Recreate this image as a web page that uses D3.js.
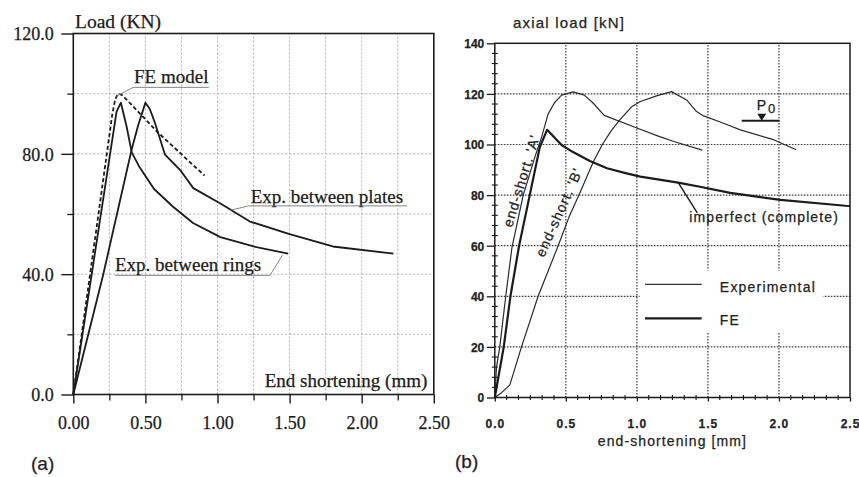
<!DOCTYPE html>
<html>
<head>
<meta charset="utf-8">
<script src="https://cdn.jsdelivr.net/npm/d3@7"></script>
<style>
  html, body { margin: 0; padding: 0; background: #fff; }
  svg { display: block; }
  /* scanned-print look: slightly heavier glyphs */
  text { stroke: #222; stroke-width: 0.25px; paint-order: stroke; }
</style>
</head>
<body>
<svg id="fig" width="859" height="477"></svg>
<script>
// ---------- Panel (a): load vs end shortening ----------
const aXTicks = [0, 0.5, 1.0, 1.5, 2.0, 2.5];
const aXMinor = [0.25, 0.75, 1.25, 1.75, 2.25];
const aYTicks = [0, 40, 80, 120];
const aYMinor = [20, 60, 100];

// FE model (dashed)
const feModelX = [0, 0.15, 0.27, 0.29, 0.31, 0.34, 0.40, 0.50, 0.58, 0.70, 0.80, 0.91];
const feModelY = [0, 51.5, 93, 98, 100, 99.5, 96.5, 91.5, 87.4, 82.1, 77.6, 72.8];

// Experiment, loaded between rings
const ringsX = [0, 0.30, 0.33, 0.37, 0.405, 0.46, 0.56, 0.69, 0.83, 1.02, 1.25, 1.49];
const ringsY = [0, 94, 97, 89, 80.5, 75.5, 68.3, 62.5, 57, 52.3, 49.2, 46.8];

// Experiment, loaded between plates
const platesX = [0, 0.208, 0.405, 0.45, 0.50, 0.53, 0.567, 0.636, 0.74, 0.832, 1.017, 1.225, 1.50, 1.80, 2.22];
const platesY = [0, 40, 81.5, 89.5, 97, 95, 90.2, 79.7, 74.7, 68.6, 63.6, 57.5, 53.3, 49.2, 46.8];

// ---------- Panel (b): axial load vs end-shortening ----------
const bXTicks = [0, 0.5, 1.0, 1.5, 2.0, 2.5];
const bYTicks = [0, 20, 40, 60, 80, 100, 120, 140];

// Experimental, end-short. 'A'
const expAX = [0, 0.012, 0.035, 0.077, 0.12, 0.2, 0.282, 0.33, 0.375, 0.42, 0.47, 0.55, 0.63, 0.69, 0.77, 1.0, 1.16, 1.26, 1.46];
const expAY = [0, 12, 20, 40, 59, 80, 95, 103, 112, 116.5, 119.5, 120.8, 119.5, 116.5, 111.5, 106.5, 103.1, 101.2, 97.8];

// Experimental, end-short. 'B'
const expBX = [0, 0.05, 0.106, 0.188, 0.305, 0.446, 0.52, 0.6, 0.692, 0.757, 0.82, 0.88, 0.963, 1.021, 1.138, 1.244, 1.35, 1.42, 1.47, 1.61, 1.728, 1.962, 2.122];
const expBY = [0, 2, 5, 20, 40, 60, 71, 81, 93, 100, 105.5, 109.7, 114.9, 116.9, 119.2, 120.9, 117.6, 113, 111.3, 108.4, 105.8, 101.9, 97.9];

// FE, imperfect (complete)
const feX = [0, 0.063, 0.11, 0.171, 0.24, 0.317, 0.368, 0.47, 0.55, 0.669, 0.79, 0.927, 1.025, 1.29, 1.444, 1.657, 2.01, 2.467, 2.5];
const feY = [0, 20, 40, 60, 78.4, 99, 105.8, 99.8, 97, 93.5, 90.6, 88.6, 87.3, 84.9, 83.3, 80.9, 78.1, 75.8, 75.7];

// squash load P0 marker
const p0Load = 109.4;
const p0Span = [1.738, 2.004];
const p0Mark = 1.879;

// ---------- drawing ----------
const svg = d3.select("#fig");
const INK = "#1b1b1b";
const pairs = (xs, ys) => xs.map((v, i) => [v, ys[i]]);

// ===== Panel (a) =====
const SERIF = "'Liberation Serif', 'Times New Roman', serif";
const xa = d3.scaleLinear([0, 2.5], [73.3, 433.8]);
const ya = d3.scaleLinear([0, 120], [394.5, 33.5]);
const ga = svg.append("g");

// grid
ga.append("g").selectAll("line").data(d3.range(0.25, 2.5, 0.25)).join("line")
  .attr("x1", d => xa(d)).attr("x2", d => xa(d))
  .attr("y1", ya(0)).attr("y2", ya(120))
  .attr("stroke", "#9a9a9a").attr("stroke-width", 0.8).attr("stroke-dasharray", "2,2");
ga.append("g").selectAll("line").data([20, 40, 60, 80, 100]).join("line")
  .attr("y1", d => ya(d)).attr("y2", d => ya(d))
  .attr("x1", xa(0)).attr("x2", xa(2.5))
  .attr("stroke", "#9a9a9a").attr("stroke-width", 0.8).attr("stroke-dasharray", "2,2");

// axes
const axA = ga.append("g").attr("transform", `translate(0,${ya(0)})`)
  .call(d3.axisBottom(xa).tickValues(aXTicks).tickSize(9).tickFormat(d3.format(".2f")));
axA.select(".domain").remove();
axA.selectAll("text").attr("y", 34.5).attr("dy", null)
  .attr("font-family", SERIF).attr("font-size", 18).attr("fill", INK);
axA.selectAll("line").attr("stroke", INK).attr("stroke-width", 1.4);
const axAm = ga.append("g").attr("transform", `translate(0,${ya(0)})`)
  .call(d3.axisBottom(xa).tickValues(aXMinor).tickSize(6).tickFormat(""));
axAm.select(".domain").remove();
axAm.selectAll("line").attr("stroke", INK).attr("stroke-width", 1.3);

const ayA = ga.append("g").attr("transform", `translate(${xa(0)},0)`)
  .call(d3.axisLeft(ya).tickValues(aYTicks).tickSize(12).tickFormat(d3.format(".1f")));
ayA.select(".domain").remove();
ayA.selectAll("text").attr("x", -19.5).attr("dy", "0.35em")
  .attr("font-family", SERIF).attr("font-size", 18).attr("fill", INK);
ayA.selectAll("line").attr("stroke", INK).attr("stroke-width", 1.4);
const ayAm = ga.append("g").attr("transform", `translate(${xa(0)},0)`)
  .call(d3.axisLeft(ya).tickValues(aYMinor).tickSize(6).tickFormat(""));
ayAm.select(".domain").remove();
ayAm.selectAll("line").attr("stroke", INK).attr("stroke-width", 1.3);

// frame
ga.append("rect").attr("x", xa(0)).attr("y", ya(120))
  .attr("width", xa(2.5) - xa(0)).attr("height", ya(0) - ya(120))
  .attr("fill", "none").attr("stroke", INK).attr("stroke-width", 1.6);

// curves
const lineA = d3.line().x(d => xa(d[0])).y(d => ya(d[1]));
ga.append("path").attr("d", lineA(pairs(feModelX, feModelY)))
  .attr("fill", "none").attr("stroke", INK).attr("stroke-width", 1.8).attr("stroke-dasharray", "4,2.5");
ga.append("path").attr("d", lineA(pairs(ringsX, ringsY)))
  .attr("fill", "none").attr("stroke", INK).attr("stroke-width", 1.8).attr("stroke-linejoin", "round");
ga.append("path").attr("d", lineA(pairs(platesX, platesY)))
  .attr("fill", "none").attr("stroke", INK).attr("stroke-width", 1.8).attr("stroke-linejoin", "round");

// callouts: label, underline and leader line
function callout(g, text, tx, ty, ul0, ul1, uly, lx, ly, lEnd) {
  g.append("text").attr("x", xa(tx)).attr("y", ya(ty)).text(text)
    .attr("font-family", SERIF).attr("font-size", 19).attr("fill", INK);
  g.append("polyline")
    .attr("points", [[xa(lx), ya(ly)], [xa(lEnd), ya(uly)], [xa(ul1), ya(uly)]].map(p => p.join(",")).join(" "))
    .attr("fill", "none").attr("stroke", "#777").attr("stroke-width", 0.9);
  if (ul0 < lEnd) {
    g.append("line").attr("x1", xa(ul0)).attr("x2", xa(lEnd)).attr("y1", ya(uly)).attr("y2", ya(uly))
      .attr("stroke", "#777").attr("stroke-width", 0.9);
  }
}
callout(ga, "FE model", 0.421, 103.6, 0.415, 0.94, 102.1, 0.30, 99.2, 0.415);
callout(ga, "Exp. between plates", 1.23, 63.8, 1.214, 2.315, 62.7, 1.087, 61.2, 1.214);
// rings: leader rises to the right end of the curve
ga.append("text").attr("x", xa(0.289)).attr("y", ya(40.9)).text("Exp. between rings")
  .attr("font-family", SERIF).attr("font-size", 19).attr("fill", INK);
ga.append("polyline")
  .attr("points", [[xa(0.289), ya(39.6)], [xa(1.364), ya(39.6)], [xa(1.45), ya(46.3)]].map(p => p.join(",")).join(" "))
  .attr("fill", "none").attr("stroke", "#777").attr("stroke-width", 0.9);

// axis titles
ga.append("text").attr("x", 75).attr("y", 28).text("Load (KN)")
  .attr("font-family", SERIF).attr("font-size", 19.5).attr("fill", INK);
ga.append("text").attr("x", xa(2.5) - 6.5).attr("y", 386.7).attr("text-anchor", "end")
  .text("End shortening (mm)")
  .attr("font-family", SERIF).attr("font-size", 19).attr("fill", INK);

// ===== Panel (b) =====
const SANS = "'Liberation Sans', Arial, Helvetica, sans-serif";
const xb = d3.scaleLinear([0, 2.5], [494.8, 850]);
const yb = d3.scaleLinear([0, 140], [397.5, 43.3]);
const gb = svg.append("g");

// grid
const GRID = { stroke: "#3a3a3a", w: 1.2, dash: "1.6,1.4" };
gb.append("g").selectAll("line").data([0.5, 1.0, 1.5, 2.0]).join("line")
  .attr("x1", d => xb(d)).attr("x2", d => xb(d))
  .attr("y1", yb(0)).attr("y2", yb(140))
  .attr("stroke", GRID.stroke).attr("stroke-width", GRID.w).attr("stroke-dasharray", GRID.dash);
gb.append("g").selectAll("line").data([20, 40, 60, 80, 100, 120]).join("line")
  .attr("y1", d => yb(d)).attr("y2", d => yb(d))
  .attr("x1", xb(0)).attr("x2", xb(2.5))
  .attr("stroke", GRID.stroke).attr("stroke-width", GRID.w).attr("stroke-dasharray", GRID.dash);

// minor ticks straddling the axes
gb.append("g").selectAll("line").data(d3.range(4, 140, 4).filter(v => v % 20 !== 0)).join("line")
  .attr("x1", xb(0) - 3).attr("x2", xb(0) + 3)
  .attr("y1", d => yb(d)).attr("y2", d => yb(d))
  .attr("stroke", INK).attr("stroke-width", 1.1);
gb.append("g").selectAll("line").data(d3.range(1, 30).filter(i => i % 6 !== 0).map(i => i / 12)).join("line")
  .attr("x1", d => xb(d)).attr("x2", d => xb(d))
  .attr("y1", yb(0) - 2.5).attr("y2", yb(0) + 2.5)
  .attr("stroke", INK).attr("stroke-width", 1.1);

// axes
const axB = gb.append("g").attr("transform", `translate(0,${yb(0)})`)
  .call(d3.axisBottom(xb).tickValues(bXTicks).tickSize(4).tickFormat(d3.format(".1f")));
axB.select(".domain").remove();
axB.selectAll("text").attr("y", 30.5).attr("dy", null)
  .attr("font-family", SANS).attr("font-size", 12).attr("font-weight", "bold")
  .attr("letter-spacing", 1).attr("fill", "#222");
axB.selectAll("line").attr("stroke", INK).attr("stroke-width", 1.3);

const ayB = gb.append("g").attr("transform", `translate(${xb(0)},0)`)
  .call(d3.axisLeft(yb).tickValues(bYTicks).tickSize(8).tickFormat(d3.format("d")));
ayB.select(".domain").remove();
ayB.selectAll("text").attr("x", -10.5).attr("dy", "0.36em")
  .attr("font-family", SANS).attr("font-size", 12).attr("font-weight", "bold").attr("fill", "#222");
ayB.selectAll("line").attr("stroke", INK).attr("stroke-width", 1.3);

// frame
gb.append("rect").attr("x", xb(0)).attr("y", yb(140))
  .attr("width", xb(2.5) - xb(0)).attr("height", yb(0) - yb(140))
  .attr("fill", "none").attr("stroke", INK).attr("stroke-width", 1.5);

// legend panel (blanks the grid behind it)
gb.append("rect").attr("x", xb(1.02)).attr("y", yb(50.2))
  .attr("width", xb(2.31) - xb(1.02)).attr("height", yb(25.5) - yb(50.2))
  .attr("fill", "#fff");
gb.append("line").attr("x1", xb(1.057)).attr("x2", xb(1.456)).attr("y1", yb(44.7)).attr("y2", yb(44.7))
  .attr("stroke", "#333").attr("stroke-width", 1.1);
gb.append("line").attr("x1", xb(1.057)).attr("x2", xb(1.456)).attr("y1", yb(31.3)).attr("y2", yb(31.3))
  .attr("stroke", INK).attr("stroke-width", 2.2);
gb.append("text").attr("x", xb(1.584)).attr("y", yb(41.8)).text("Experimental")
  .attr("font-family", SANS).attr("font-size", 14).attr("letter-spacing", 1.2).attr("fill", "#222");
gb.append("text").attr("x", xb(1.584)).attr("y", yb(28.5)).text("FE")
  .attr("font-family", SANS).attr("font-size", 14).attr("letter-spacing", 1.2).attr("fill", "#222");

// curves
const lineB = d3.line().x(d => xb(d[0])).y(d => yb(d[1]));
gb.append("path").attr("d", lineB(pairs(expAX, expAY)))
  .attr("fill", "none").attr("stroke", "#2a2a2a").attr("stroke-width", 1.2).attr("stroke-linejoin", "round");
gb.append("path").attr("d", lineB(pairs(expBX, expBY)))
  .attr("fill", "none").attr("stroke", "#2a2a2a").attr("stroke-width", 1.2).attr("stroke-linejoin", "round");
gb.append("path").attr("d", lineB(pairs(feX, feY)))
  .attr("fill", "none").attr("stroke", INK).attr("stroke-width", 2.2).attr("stroke-linejoin", "round");

// curve labels
gb.append("text").attr("transform", `translate(${xb(0.121)},${yb(67)}) rotate(-73)`)
  .text("end-short. 'A'")
  .attr("font-family", SANS).attr("font-size", 14).attr("letter-spacing", 1).attr("fill", "#222");
gb.append("text").attr("transform", `translate(${xb(0.346)},${yb(55.1)}) rotate(-66)`)
  .text("end-short. 'B'")
  .attr("font-family", SANS).attr("font-size", 14).attr("letter-spacing", 1).attr("fill", "#222");

gb.append("line").attr("x1", xb(1.291)).attr("y1", yb(84.9)).attr("x2", xb(1.425)).attr("y2", yb(73))
  .attr("stroke", INK).attr("stroke-width", 1.4);
gb.append("text").attr("x", xb(1.369)).attr("y", yb(69.2)).text("imperfect (complete)")
  .attr("font-family", SANS).attr("font-size", 14).attr("letter-spacing", 1.1).attr("fill", "#222");

// P0 marker
gb.append("line").attr("x1", xb(p0Span[0])).attr("x2", xb(p0Span[1]))
  .attr("y1", yb(p0Load)).attr("y2", yb(p0Load))
  .attr("stroke", INK).attr("stroke-width", 2);
gb.append("path")
  .attr("d", `M${xb(p0Mark) - 4.5},${yb(p0Load) - 7} L${xb(p0Mark) + 4.5},${yb(p0Load) - 7} L${xb(p0Mark)},${yb(p0Load)} Z`)
  .attr("fill", INK);
const p0 = gb.append("text").attr("x", xb(p0Mark) - 5).attr("y", yb(p0Load) - 10.5)
  .attr("font-family", SANS).attr("font-size", 14).attr("fill", "#222");
p0.append("tspan").text("P");
p0.append("tspan").attr("dx", 2).attr("dy", 3).attr("font-size", 13).text("0");

// axis titles
gb.append("text").attr("x", 513).attr("y", 28).text("axial load [kN]")
  .attr("font-family", SANS).attr("font-size", 15).attr("letter-spacing", 1.2).attr("fill", "#222");
gb.append("text").attr("x", (xb(0) + xb(2.5)) / 2).attr("y", 446).attr("text-anchor", "middle")
  .text("end-shortening [mm]")
  .attr("font-family", SANS).attr("font-size", 14).attr("letter-spacing", 1.1).attr("fill", "#222");

// panel letters
svg.append("text").attr("x", 31).attr("y", 470).text("(a)")
  .attr("font-family", SANS).attr("font-size", 19).attr("fill", "#222");
svg.append("text").attr("x", 455).attr("y", 468).text("(b)")
  .attr("font-family", SANS).attr("font-size", 19).attr("fill", "#222");
</script>
</body>
</html>
